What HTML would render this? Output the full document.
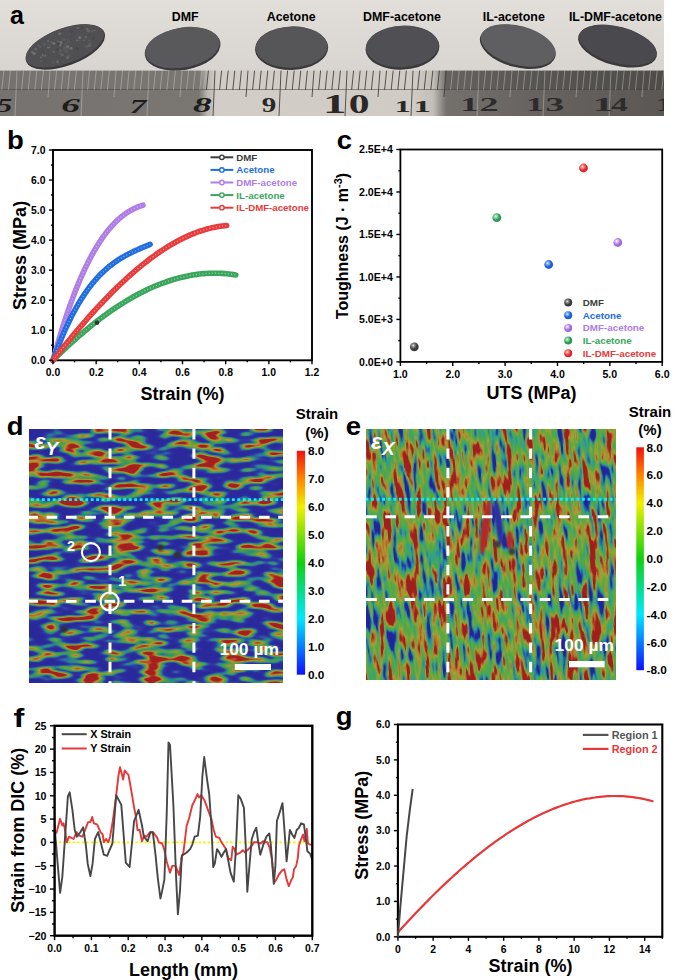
<!DOCTYPE html>
<html><head><meta charset="utf-8"><title>Figure</title>
<style>html,body{margin:0;padding:0;background:#fff;width:685px;height:980px;overflow:hidden}svg{display:block}</style>
</head><body>
<svg width="685" height="980" viewBox="0 0 685 980" font-family="Liberation Sans, sans-serif">
<rect width="685" height="980" fill="#fff"/>
<defs>
<linearGradient id="bgA" x1="0" y1="0" x2="0" y2="1"><stop offset="0" stop-color="#e2dfdb"/><stop offset="1" stop-color="#d2cec9"/></linearGradient>
<linearGradient id="rul" x1="0" y1="0" x2="1" y2="0"><stop offset="0" stop-color="#75726f"/><stop offset="0.3" stop-color="#7a7773"/><stop offset="0.312" stop-color="#b8b4ae"/><stop offset="0.325" stop-color="#d2cec7"/><stop offset="0.62" stop-color="#d0ccc5"/><stop offset="0.652" stop-color="#c4c0b9"/><stop offset="0.672" stop-color="#74716d"/><stop offset="0.8" stop-color="#666360"/><stop offset="1" stop-color="#5a5754"/></linearGradient>
<radialGradient id="disc" cx="0.5" cy="0.45" r="0.6"><stop offset="0" stop-color="#5a5a5c"/><stop offset="0.85" stop-color="#4f4f52"/><stop offset="1" stop-color="#3c3c3e"/></radialGradient>
</defs>
<clipPath id="photoClip"><rect x="0" y="0" width="664" height="116"/></clipPath>
<g clip-path="url(#photoClip)">
<rect x="0" y="0" width="664" height="116" fill="url(#bgA)"/>
<g transform="rotate(-20 65.1 46.35)">
<ellipse cx="65.1" cy="47.15" rx="41.8" ry="18.6" fill="#3a3a3c"/>
<ellipse cx="65.1" cy="45.75" rx="41.199999999999996" ry="17.6" fill="#505052"/>
</g>
<g transform="rotate(-10 182.5 48.2)">
<ellipse cx="182.5" cy="49.0" rx="38.3" ry="21.0" fill="#3a3a3c"/>
<ellipse cx="182.5" cy="47.6" rx="37.699999999999996" ry="20.0" fill="#59595b"/>
</g>
<g transform="rotate(-2 291.6 47.6)">
<ellipse cx="291.6" cy="48.4" rx="36.6" ry="21.6" fill="#3a3a3c"/>
<ellipse cx="291.6" cy="47.0" rx="36.0" ry="20.6" fill="#565659"/>
</g>
<g transform="rotate(-3 402.4 47)">
<ellipse cx="402.4" cy="47.8" rx="37" ry="21.8" fill="#3a3a3c"/>
<ellipse cx="402.4" cy="46.4" rx="36.4" ry="20.8" fill="#505054"/>
</g>
<g transform="rotate(15 518 46)">
<ellipse cx="518" cy="46.8" rx="38.9" ry="20.5" fill="#3a3a3c"/>
<ellipse cx="518" cy="45.4" rx="38.3" ry="19.5" fill="#5f5f62"/>
</g>
<g transform="rotate(15 617.7 45.5)">
<ellipse cx="617.7" cy="46.3" rx="40.5" ry="19.2" fill="#3a3a3c"/>
<ellipse cx="617.7" cy="44.9" rx="39.9" ry="18.2" fill="#4a4a4e"/>
</g>
<circle cx="70.1" cy="54.6" r="0.9" fill="#5e5e60" opacity="0.75"/>
<circle cx="61.0" cy="45.8" r="0.4" fill="#5e5e60" opacity="0.75"/>
<circle cx="66.2" cy="51.4" r="1.8" fill="#5e5e60" opacity="0.75"/>
<circle cx="42.8" cy="51.4" r="1.0" fill="#444446" opacity="0.75"/>
<circle cx="67.5" cy="49.4" r="1.7" fill="#5e5e60" opacity="0.75"/>
<circle cx="59.8" cy="35.8" r="0.5" fill="#6c6c6e" opacity="0.75"/>
<circle cx="64.6" cy="47.5" r="1.6" fill="#5e5e60" opacity="0.75"/>
<circle cx="36.1" cy="48.1" r="0.9" fill="#5e5e60" opacity="0.75"/>
<circle cx="45.0" cy="61.7" r="1.0" fill="#444446" opacity="0.75"/>
<circle cx="69.2" cy="42.3" r="0.6" fill="#444446" opacity="0.75"/>
<circle cx="67.7" cy="57.2" r="1.5" fill="#78787a" opacity="0.75"/>
<circle cx="41.2" cy="61.4" r="1.2" fill="#5e5e60" opacity="0.75"/>
<circle cx="35.6" cy="49.2" r="1.4" fill="#6c6c6e" opacity="0.75"/>
<circle cx="81.8" cy="27.4" r="1.3" fill="#444446" opacity="0.75"/>
<circle cx="58.0" cy="41.6" r="1.2" fill="#6c6c6e" opacity="0.75"/>
<circle cx="60.9" cy="42.3" r="1.6" fill="#78787a" opacity="0.75"/>
<circle cx="64.8" cy="48.4" r="1.6" fill="#5e5e60" opacity="0.75"/>
<circle cx="91.9" cy="43.5" r="1.0" fill="#444446" opacity="0.75"/>
<circle cx="83.9" cy="40.3" r="1.0" fill="#6c6c6e" opacity="0.75"/>
<circle cx="89.1" cy="40.4" r="0.5" fill="#78787a" opacity="0.75"/>
<circle cx="33.4" cy="52.8" r="0.8" fill="#444446" opacity="0.75"/>
<circle cx="79.9" cy="40.5" r="0.5" fill="#6c6c6e" opacity="0.75"/>
<circle cx="94.8" cy="30.2" r="0.8" fill="#78787a" opacity="0.75"/>
<circle cx="67.6" cy="46.5" r="1.6" fill="#78787a" opacity="0.75"/>
<circle cx="60.7" cy="50.7" r="1.6" fill="#5e5e60" opacity="0.75"/>
<circle cx="45.2" cy="55.7" r="1.3" fill="#6c6c6e" opacity="0.75"/>
<circle cx="38.2" cy="45.2" r="1.1" fill="#5e5e60" opacity="0.75"/>
<circle cx="44.3" cy="44.1" r="1.7" fill="#5e5e60" opacity="0.75"/>
<circle cx="85.8" cy="37.1" r="1.2" fill="#6c6c6e" opacity="0.75"/>
<circle cx="68.1" cy="29.4" r="0.8" fill="#5e5e60" opacity="0.75"/>
<circle cx="44.4" cy="45.8" r="0.5" fill="#78787a" opacity="0.75"/>
<circle cx="40.8" cy="57.4" r="0.9" fill="#78787a" opacity="0.75"/>
<circle cx="64.6" cy="45.1" r="0.5" fill="#6c6c6e" opacity="0.75"/>
<circle cx="77.1" cy="40.2" r="1.0" fill="#78787a" opacity="0.75"/>
<circle cx="71.1" cy="48.3" r="1.5" fill="#78787a" opacity="0.75"/>
<circle cx="62.3" cy="54.7" r="1.5" fill="#6c6c6e" opacity="0.75"/>
<circle cx="89.8" cy="34.8" r="0.6" fill="#444446" opacity="0.75"/>
<circle cx="55.8" cy="44.1" r="0.9" fill="#5e5e60" opacity="0.75"/>
<circle cx="60.4" cy="45.2" r="1.2" fill="#78787a" opacity="0.75"/>
<circle cx="58.1" cy="43.5" r="1.5" fill="#444446" opacity="0.75"/>
<circle cx="91.1" cy="42.8" r="0.7" fill="#5e5e60" opacity="0.75"/>
<circle cx="65.8" cy="59.2" r="0.4" fill="#444446" opacity="0.75"/>
<circle cx="57.5" cy="61.8" r="1.2" fill="#78787a" opacity="0.75"/>
<circle cx="53.1" cy="62.2" r="0.5" fill="#78787a" opacity="0.75"/>
<circle cx="48.0" cy="47.5" r="1.1" fill="#78787a" opacity="0.75"/>
<circle cx="42.0" cy="57.0" r="0.8" fill="#5e5e60" opacity="0.75"/>
<circle cx="83.4" cy="41.3" r="0.7" fill="#5e5e60" opacity="0.75"/>
<circle cx="92.3" cy="31.0" r="1.8" fill="#5e5e60" opacity="0.75"/>
<circle cx="32.2" cy="52.2" r="1.4" fill="#6c6c6e" opacity="0.75"/>
<circle cx="59.7" cy="33.8" r="1.3" fill="#78787a" opacity="0.75"/>
<circle cx="33.9" cy="53.3" r="1.6" fill="#78787a" opacity="0.75"/>
<circle cx="75.6" cy="46.3" r="0.4" fill="#444446" opacity="0.75"/>
<circle cx="87.1" cy="29.0" r="1.2" fill="#6c6c6e" opacity="0.75"/>
<circle cx="57.6" cy="49.2" r="1.1" fill="#444446" opacity="0.75"/>
<circle cx="51.1" cy="42.3" r="1.0" fill="#6c6c6e" opacity="0.75"/>
<circle cx="59.8" cy="53.1" r="1.6" fill="#5e5e60" opacity="0.75"/>
<circle cx="66.2" cy="43.5" r="0.7" fill="#6c6c6e" opacity="0.75"/>
<circle cx="35.6" cy="53.7" r="0.6" fill="#78787a" opacity="0.75"/>
<circle cx="88.5" cy="30.9" r="1.6" fill="#6c6c6e" opacity="0.75"/>
<circle cx="42.7" cy="55.0" r="1.0" fill="#78787a" opacity="0.75"/>
<circle cx="69.0" cy="56.0" r="1.1" fill="#6c6c6e" opacity="0.75"/>
<circle cx="38.0" cy="58.1" r="0.4" fill="#6c6c6e" opacity="0.75"/>
<circle cx="65.1" cy="44.1" r="0.5" fill="#5e5e60" opacity="0.75"/>
<circle cx="94.2" cy="33.1" r="0.5" fill="#5e5e60" opacity="0.75"/>
<circle cx="61.2" cy="54.0" r="0.9" fill="#5e5e60" opacity="0.75"/>
<circle cx="49.7" cy="47.5" r="0.7" fill="#78787a" opacity="0.75"/>
<circle cx="58.4" cy="50.1" r="0.4" fill="#5e5e60" opacity="0.75"/>
<circle cx="68.1" cy="34.5" r="0.5" fill="#5e5e60" opacity="0.75"/>
<circle cx="40.0" cy="46.9" r="0.9" fill="#6c6c6e" opacity="0.75"/>
<circle cx="49.7" cy="45.4" r="0.9" fill="#5e5e60" opacity="0.75"/>
<circle cx="63.8" cy="39.4" r="1.7" fill="#5e5e60" opacity="0.75"/>
<circle cx="53.4" cy="51.7" r="1.2" fill="#6c6c6e" opacity="0.75"/>
<circle cx="67.3" cy="39.9" r="0.6" fill="#6c6c6e" opacity="0.75"/>
<circle cx="79.7" cy="37.6" r="1.7" fill="#78787a" opacity="0.75"/>
<circle cx="86.6" cy="46.7" r="1.7" fill="#5e5e60" opacity="0.75"/>
<circle cx="48.1" cy="41.0" r="1.2" fill="#6c6c6e" opacity="0.75"/>
<circle cx="71.4" cy="31.9" r="1.1" fill="#444446" opacity="0.75"/>
<circle cx="65.1" cy="44.2" r="0.5" fill="#6c6c6e" opacity="0.75"/>
<circle cx="53.7" cy="43.3" r="1.5" fill="#78787a" opacity="0.75"/>
<circle cx="68.3" cy="41.8" r="1.6" fill="#5e5e60" opacity="0.75"/>
<circle cx="77.6" cy="28.1" r="1.2" fill="#6c6c6e" opacity="0.75"/>
<circle cx="93.3" cy="38.7" r="1.1" fill="#444446" opacity="0.75"/>
<circle cx="89.3" cy="45.4" r="1.7" fill="#6c6c6e" opacity="0.75"/>
<circle cx="34.6" cy="52.6" r="0.7" fill="#6c6c6e" opacity="0.75"/>
<circle cx="67.2" cy="50.1" r="0.7" fill="#5e5e60" opacity="0.75"/>
<circle cx="68.3" cy="56.1" r="1.7" fill="#5e5e60" opacity="0.75"/>
<circle cx="81.1" cy="38.5" r="0.7" fill="#5e5e60" opacity="0.75"/>
<circle cx="79.2" cy="27.8" r="1.0" fill="#5e5e60" opacity="0.75"/>
<circle cx="77.2" cy="48.6" r="1.6" fill="#444446" opacity="0.75"/>
<circle cx="90.1" cy="44.3" r="1.7" fill="#5e5e60" opacity="0.75"/>
<rect x="0" y="70.6" width="664" height="45.4" fill="url(#rul)"/>
<rect x="445" y="70.6" width="219" height="19" fill="#000" opacity="0.13"/>
<line x1="0" y1="89.5" x2="664" y2="89.5" stroke="#3a3836" stroke-width="0.8" opacity="0.6"/>
<line x1="3.8" y1="70.6" x2="1.8" y2="90" stroke="#dcd8d2" stroke-width="0.8" opacity="0.5"/>
<line x1="10.4" y1="70.6" x2="8.4" y2="90" stroke="#dcd8d2" stroke-width="0.8" opacity="0.5"/>
<line x1="17.0" y1="70.6" x2="15.0" y2="116" stroke="#dcd8d2" stroke-width="0.8" opacity="0.5"/>
<line x1="23.6" y1="70.6" x2="21.6" y2="90" stroke="#dcd8d2" stroke-width="0.8" opacity="0.5"/>
<line x1="30.2" y1="70.6" x2="28.2" y2="90" stroke="#dcd8d2" stroke-width="0.8" opacity="0.5"/>
<line x1="36.8" y1="70.6" x2="34.8" y2="90" stroke="#dcd8d2" stroke-width="0.8" opacity="0.5"/>
<line x1="43.4" y1="70.6" x2="41.4" y2="90" stroke="#dcd8d2" stroke-width="0.8" opacity="0.5"/>
<line x1="50.0" y1="70.6" x2="48.0" y2="97" stroke="#dcd8d2" stroke-width="0.8" opacity="0.5"/>
<line x1="56.6" y1="70.6" x2="54.6" y2="90" stroke="#dcd8d2" stroke-width="0.8" opacity="0.5"/>
<line x1="63.2" y1="70.6" x2="61.2" y2="90" stroke="#dcd8d2" stroke-width="0.8" opacity="0.5"/>
<line x1="69.8" y1="70.6" x2="67.8" y2="90" stroke="#dcd8d2" stroke-width="0.8" opacity="0.5"/>
<line x1="76.4" y1="70.6" x2="74.4" y2="90" stroke="#dcd8d2" stroke-width="0.8" opacity="0.5"/>
<line x1="83.0" y1="70.6" x2="81.0" y2="116" stroke="#dcd8d2" stroke-width="0.8" opacity="0.5"/>
<line x1="89.6" y1="70.6" x2="87.6" y2="90" stroke="#dcd8d2" stroke-width="0.8" opacity="0.5"/>
<line x1="96.2" y1="70.6" x2="94.2" y2="90" stroke="#dcd8d2" stroke-width="0.8" opacity="0.5"/>
<line x1="102.8" y1="70.6" x2="100.8" y2="90" stroke="#dcd8d2" stroke-width="0.8" opacity="0.5"/>
<line x1="109.4" y1="70.6" x2="107.4" y2="90" stroke="#dcd8d2" stroke-width="0.8" opacity="0.5"/>
<line x1="116.0" y1="70.6" x2="114.0" y2="97" stroke="#dcd8d2" stroke-width="0.8" opacity="0.5"/>
<line x1="122.6" y1="70.6" x2="120.6" y2="90" stroke="#dcd8d2" stroke-width="0.8" opacity="0.5"/>
<line x1="129.2" y1="70.6" x2="127.2" y2="90" stroke="#dcd8d2" stroke-width="0.8" opacity="0.5"/>
<line x1="135.8" y1="70.6" x2="133.8" y2="90" stroke="#dcd8d2" stroke-width="0.8" opacity="0.5"/>
<line x1="142.4" y1="70.6" x2="140.4" y2="90" stroke="#dcd8d2" stroke-width="0.8" opacity="0.5"/>
<line x1="149.0" y1="70.6" x2="147.0" y2="116" stroke="#dcd8d2" stroke-width="0.8" opacity="0.5"/>
<line x1="155.6" y1="70.6" x2="153.6" y2="90" stroke="#dcd8d2" stroke-width="0.8" opacity="0.5"/>
<line x1="162.2" y1="70.6" x2="160.2" y2="90" stroke="#dcd8d2" stroke-width="0.8" opacity="0.5"/>
<line x1="168.8" y1="70.6" x2="166.8" y2="90" stroke="#dcd8d2" stroke-width="0.8" opacity="0.5"/>
<line x1="175.4" y1="70.6" x2="173.4" y2="90" stroke="#dcd8d2" stroke-width="0.8" opacity="0.5"/>
<line x1="182.0" y1="70.6" x2="180.0" y2="97" stroke="#dcd8d2" stroke-width="0.8" opacity="0.5"/>
<line x1="188.6" y1="70.6" x2="186.6" y2="90" stroke="#dcd8d2" stroke-width="0.8" opacity="0.5"/>
<line x1="195.2" y1="70.6" x2="193.2" y2="90" stroke="#dcd8d2" stroke-width="0.8" opacity="0.5"/>
<line x1="201.8" y1="70.6" x2="199.8" y2="90" stroke="#dcd8d2" stroke-width="0.8" opacity="0.5"/>
<line x1="208.4" y1="70.6" x2="206.4" y2="90" stroke="#3e3b38" stroke-width="1.0" opacity="0.85"/>
<line x1="215.0" y1="70.6" x2="213.0" y2="116" stroke="#3e3b38" stroke-width="1.0" opacity="0.85"/>
<line x1="221.6" y1="70.6" x2="219.6" y2="90" stroke="#3e3b38" stroke-width="1.0" opacity="0.85"/>
<line x1="228.2" y1="70.6" x2="226.2" y2="90" stroke="#3e3b38" stroke-width="1.0" opacity="0.85"/>
<line x1="234.8" y1="70.6" x2="232.8" y2="90" stroke="#3e3b38" stroke-width="1.0" opacity="0.85"/>
<line x1="241.4" y1="70.6" x2="239.4" y2="90" stroke="#3e3b38" stroke-width="1.0" opacity="0.85"/>
<line x1="248.0" y1="70.6" x2="246.0" y2="97" stroke="#3e3b38" stroke-width="1.0" opacity="0.85"/>
<line x1="254.6" y1="70.6" x2="252.6" y2="90" stroke="#3e3b38" stroke-width="1.0" opacity="0.85"/>
<line x1="261.2" y1="70.6" x2="259.2" y2="90" stroke="#3e3b38" stroke-width="1.0" opacity="0.85"/>
<line x1="267.8" y1="70.6" x2="265.8" y2="90" stroke="#3e3b38" stroke-width="1.0" opacity="0.85"/>
<line x1="274.4" y1="70.6" x2="272.4" y2="90" stroke="#3e3b38" stroke-width="1.0" opacity="0.85"/>
<line x1="281.0" y1="70.6" x2="279.0" y2="116" stroke="#3e3b38" stroke-width="1.0" opacity="0.85"/>
<line x1="287.6" y1="70.6" x2="285.6" y2="90" stroke="#3e3b38" stroke-width="1.0" opacity="0.85"/>
<line x1="294.2" y1="70.6" x2="292.2" y2="90" stroke="#3e3b38" stroke-width="1.0" opacity="0.85"/>
<line x1="300.8" y1="70.6" x2="298.8" y2="90" stroke="#3e3b38" stroke-width="1.0" opacity="0.85"/>
<line x1="307.4" y1="70.6" x2="305.4" y2="90" stroke="#3e3b38" stroke-width="1.0" opacity="0.85"/>
<line x1="314.0" y1="70.6" x2="312.0" y2="97" stroke="#3e3b38" stroke-width="1.0" opacity="0.85"/>
<line x1="320.6" y1="70.6" x2="318.6" y2="90" stroke="#3e3b38" stroke-width="1.0" opacity="0.85"/>
<line x1="327.2" y1="70.6" x2="325.2" y2="90" stroke="#3e3b38" stroke-width="1.0" opacity="0.85"/>
<line x1="333.8" y1="70.6" x2="331.8" y2="90" stroke="#3e3b38" stroke-width="1.0" opacity="0.85"/>
<line x1="340.4" y1="70.6" x2="338.4" y2="90" stroke="#3e3b38" stroke-width="1.0" opacity="0.85"/>
<line x1="347.0" y1="70.6" x2="345.0" y2="116" stroke="#3e3b38" stroke-width="1.0" opacity="0.85"/>
<line x1="353.6" y1="70.6" x2="351.6" y2="90" stroke="#3e3b38" stroke-width="1.0" opacity="0.85"/>
<line x1="360.2" y1="70.6" x2="358.2" y2="90" stroke="#3e3b38" stroke-width="1.0" opacity="0.85"/>
<line x1="366.8" y1="70.6" x2="364.8" y2="90" stroke="#3e3b38" stroke-width="1.0" opacity="0.85"/>
<line x1="373.4" y1="70.6" x2="371.4" y2="90" stroke="#3e3b38" stroke-width="1.0" opacity="0.85"/>
<line x1="380.0" y1="70.6" x2="378.0" y2="97" stroke="#3e3b38" stroke-width="1.0" opacity="0.85"/>
<line x1="386.6" y1="70.6" x2="384.6" y2="90" stroke="#3e3b38" stroke-width="1.0" opacity="0.85"/>
<line x1="393.2" y1="70.6" x2="391.2" y2="90" stroke="#3e3b38" stroke-width="1.0" opacity="0.85"/>
<line x1="399.8" y1="70.6" x2="397.8" y2="90" stroke="#3e3b38" stroke-width="1.0" opacity="0.85"/>
<line x1="406.4" y1="70.6" x2="404.4" y2="90" stroke="#3e3b38" stroke-width="1.0" opacity="0.85"/>
<line x1="413.0" y1="70.6" x2="411.0" y2="116" stroke="#3e3b38" stroke-width="1.0" opacity="0.85"/>
<line x1="419.6" y1="70.6" x2="417.6" y2="90" stroke="#3e3b38" stroke-width="1.0" opacity="0.85"/>
<line x1="426.2" y1="70.6" x2="424.2" y2="90" stroke="#3e3b38" stroke-width="1.0" opacity="0.85"/>
<line x1="432.8" y1="70.6" x2="430.8" y2="90" stroke="#3e3b38" stroke-width="1.0" opacity="0.85"/>
<line x1="439.4" y1="70.6" x2="437.4" y2="90" stroke="#3e3b38" stroke-width="1.0" opacity="0.85"/>
<line x1="446.0" y1="70.6" x2="444.0" y2="97" stroke="#3e3b38" stroke-width="1.0" opacity="0.85"/>
<line x1="452.6" y1="70.6" x2="450.6" y2="90" stroke="#dcd8d2" stroke-width="0.8" opacity="0.5"/>
<line x1="459.2" y1="70.6" x2="457.2" y2="90" stroke="#dcd8d2" stroke-width="0.8" opacity="0.5"/>
<line x1="465.8" y1="70.6" x2="463.8" y2="90" stroke="#dcd8d2" stroke-width="0.8" opacity="0.5"/>
<line x1="472.4" y1="70.6" x2="470.4" y2="90" stroke="#dcd8d2" stroke-width="0.8" opacity="0.5"/>
<line x1="479.0" y1="70.6" x2="477.0" y2="116" stroke="#dcd8d2" stroke-width="0.8" opacity="0.5"/>
<line x1="485.6" y1="70.6" x2="483.6" y2="90" stroke="#dcd8d2" stroke-width="0.8" opacity="0.5"/>
<line x1="492.2" y1="70.6" x2="490.2" y2="90" stroke="#dcd8d2" stroke-width="0.8" opacity="0.5"/>
<line x1="498.8" y1="70.6" x2="496.8" y2="90" stroke="#dcd8d2" stroke-width="0.8" opacity="0.5"/>
<line x1="505.4" y1="70.6" x2="503.4" y2="90" stroke="#dcd8d2" stroke-width="0.8" opacity="0.5"/>
<line x1="512.0" y1="70.6" x2="510.0" y2="97" stroke="#dcd8d2" stroke-width="0.8" opacity="0.5"/>
<line x1="518.6" y1="70.6" x2="516.6" y2="90" stroke="#dcd8d2" stroke-width="0.8" opacity="0.5"/>
<line x1="525.2" y1="70.6" x2="523.2" y2="90" stroke="#dcd8d2" stroke-width="0.8" opacity="0.5"/>
<line x1="531.8" y1="70.6" x2="529.8" y2="90" stroke="#dcd8d2" stroke-width="0.8" opacity="0.5"/>
<line x1="538.4" y1="70.6" x2="536.4" y2="90" stroke="#dcd8d2" stroke-width="0.8" opacity="0.5"/>
<line x1="545.0" y1="70.6" x2="543.0" y2="116" stroke="#dcd8d2" stroke-width="0.8" opacity="0.5"/>
<line x1="551.6" y1="70.6" x2="549.6" y2="90" stroke="#dcd8d2" stroke-width="0.8" opacity="0.5"/>
<line x1="558.2" y1="70.6" x2="556.2" y2="90" stroke="#dcd8d2" stroke-width="0.8" opacity="0.5"/>
<line x1="564.8" y1="70.6" x2="562.8" y2="90" stroke="#dcd8d2" stroke-width="0.8" opacity="0.5"/>
<line x1="571.4" y1="70.6" x2="569.4" y2="90" stroke="#dcd8d2" stroke-width="0.8" opacity="0.5"/>
<line x1="578.0" y1="70.6" x2="576.0" y2="97" stroke="#dcd8d2" stroke-width="0.8" opacity="0.5"/>
<line x1="584.6" y1="70.6" x2="582.6" y2="90" stroke="#dcd8d2" stroke-width="0.8" opacity="0.5"/>
<line x1="591.2" y1="70.6" x2="589.2" y2="90" stroke="#dcd8d2" stroke-width="0.8" opacity="0.5"/>
<line x1="597.8" y1="70.6" x2="595.8" y2="90" stroke="#dcd8d2" stroke-width="0.8" opacity="0.5"/>
<line x1="604.4" y1="70.6" x2="602.4" y2="90" stroke="#dcd8d2" stroke-width="0.8" opacity="0.5"/>
<line x1="611.0" y1="70.6" x2="609.0" y2="116" stroke="#dcd8d2" stroke-width="0.8" opacity="0.5"/>
<line x1="617.6" y1="70.6" x2="615.6" y2="90" stroke="#dcd8d2" stroke-width="0.8" opacity="0.5"/>
<line x1="624.2" y1="70.6" x2="622.2" y2="90" stroke="#dcd8d2" stroke-width="0.8" opacity="0.5"/>
<line x1="630.8" y1="70.6" x2="628.8" y2="90" stroke="#dcd8d2" stroke-width="0.8" opacity="0.5"/>
<line x1="637.4" y1="70.6" x2="635.4" y2="90" stroke="#dcd8d2" stroke-width="0.8" opacity="0.5"/>
<line x1="644.0" y1="70.6" x2="642.0" y2="97" stroke="#dcd8d2" stroke-width="0.8" opacity="0.5"/>
<line x1="650.6" y1="70.6" x2="648.6" y2="90" stroke="#dcd8d2" stroke-width="0.8" opacity="0.5"/>
<line x1="657.2" y1="70.6" x2="655.2" y2="90" stroke="#dcd8d2" stroke-width="0.8" opacity="0.5"/>
<line x1="663.8" y1="70.6" x2="661.8" y2="90" stroke="#dcd8d2" stroke-width="0.8" opacity="0.5"/>
<text transform="translate(4.5,112.0) scale(1.60,1)" font-family="Liberation Serif, serif" font-weight="bold" font-style="italic" font-size="19.4" text-anchor="middle" fill="#1e1d1c">5</text>
<text transform="translate(70.7,112.0) scale(1.91,1)" font-family="Liberation Serif, serif" font-weight="bold" font-style="italic" font-size="19.6" text-anchor="middle" fill="#1e1d1c">6</text>
<text transform="translate(137.9,112.7) scale(1.69,1)" font-family="Liberation Serif, serif" font-weight="bold" font-style="italic" font-size="19.6" text-anchor="middle" fill="#1e1d1c">7</text>
<text transform="translate(202.3,112.3) scale(1.88,1)" font-family="Liberation Serif, serif" font-weight="bold" font-style="italic" font-size="19.9" text-anchor="middle" fill="#1e1d1c">8</text>
<text transform="translate(268.9,112.3) scale(1.46,1)" font-family="Liberation Serif, serif" font-weight="bold" font-style="normal" font-size="19.9" text-anchor="middle" fill="#2a2826">9</text>
<text transform="translate(334.6,113.0) scale(1.72,1)" font-family="Liberation Serif, serif" font-weight="bold" font-style="normal" font-size="27.2" text-anchor="middle" fill="#2a2826">1</text>
<text transform="translate(359.1,113.0) scale(1.53,1)" font-family="Liberation Serif, serif" font-weight="bold" font-style="normal" font-size="27.2" text-anchor="middle" fill="#2a2826">0</text>
<text transform="translate(402.6,112.3) scale(1.90,1)" font-family="Liberation Serif, serif" font-weight="bold" font-style="normal" font-size="17.2" text-anchor="middle" fill="#2a2826">1</text>
<text transform="translate(422.2,112.3) scale(2.04,1)" font-family="Liberation Serif, serif" font-weight="bold" font-style="normal" font-size="17.2" text-anchor="middle" fill="#2a2826">1</text>
<text transform="translate(469.5,110.6) scale(1.88,1)" font-family="Liberation Serif, serif" font-weight="bold" font-style="normal" font-size="19.6" text-anchor="middle" fill="#2e2c2a">1</text>
<text transform="translate(489.0,110.6) scale(1.95,1)" font-family="Liberation Serif, serif" font-weight="bold" font-style="normal" font-size="19.6" text-anchor="middle" fill="#2e2c2a">2</text>
<text transform="translate(535.2,110.6) scale(1.86,1)" font-family="Liberation Serif, serif" font-weight="bold" font-style="normal" font-size="19.6" text-anchor="middle" fill="#2e2c2a">1</text>
<text transform="translate(554.7,110.6) scale(1.90,1)" font-family="Liberation Serif, serif" font-weight="bold" font-style="normal" font-size="19.6" text-anchor="middle" fill="#2e2c2a">3</text>
<text transform="translate(603.1,110.6) scale(2.13,1)" font-family="Liberation Serif, serif" font-weight="bold" font-style="normal" font-size="19.6" text-anchor="middle" fill="#2e2c2a">1</text>
<text transform="translate(619.5,110.6) scale(1.72,1)" font-family="Liberation Serif, serif" font-weight="bold" font-style="normal" font-size="19.6" text-anchor="middle" fill="#2e2c2a">4</text>
<text transform="translate(664.7,110.6) scale(1.81,1)" font-family="Liberation Serif, serif" font-weight="bold" font-style="normal" font-size="19.6" text-anchor="middle" fill="#2e2c2a">1</text>
</g>
<text transform="translate(10,24.1) scale(1.0,1)" font-size="25" font-weight="bold" fill="#000">a</text>
<text x="185.2" y="21.2" font-size="12.4" font-weight="bold" text-anchor="middle" fill="#000" >DMF</text>
<text x="291.2" y="21.2" font-size="12.4" font-weight="bold" text-anchor="middle" fill="#000" >Acetone</text>
<text x="402.0" y="21.2" font-size="12.4" font-weight="bold" text-anchor="middle" fill="#000" >DMF-acetone</text>
<text x="513.8" y="21.2" font-size="12.4" font-weight="bold" text-anchor="middle" fill="#000" >IL-acetone</text>
<text x="615.4" y="21.2" font-size="12.4" font-weight="bold" text-anchor="middle" fill="#000" >IL-DMF-acetone</text>
<rect x="53" y="150" width="259" height="210.3" fill="none" stroke="#000" stroke-width="1.9"/>
<polyline points="53.0,360.3 54.1,356.2 55.3,352.2 56.4,348.2 57.5,344.3 58.6,340.5 59.8,336.7 60.9,333.0 62.0,329.4 63.1,325.8 64.3,322.3 65.4,318.9 66.5,315.5 67.6,312.2 68.8,308.9 69.9,305.7 71.0,302.6 72.1,299.6 73.3,296.5 74.4,293.6 75.5,290.7 76.6,287.9 77.8,285.1 78.9,282.4 80.0,279.7 81.1,277.1 82.3,274.6 83.4,272.1 84.5,269.7 85.6,267.3 86.8,265.0 87.9,262.7 89.0,260.5 90.1,258.3 91.3,256.2 92.4,254.1 93.5,252.1 94.6,250.2 95.8,248.2 96.9,246.4 98.0,244.6 99.1,242.8 100.3,241.1 101.4,239.4 102.5,237.8 103.6,236.2 104.8,234.6 105.9,233.1 107.0,231.7 108.1,230.3 109.3,228.9 110.4,227.6 111.5,226.3 112.6,225.1 113.8,223.9 114.9,222.7 116.0,221.6 117.1,220.5 118.3,219.5 119.4,218.5 120.5,217.5 121.6,216.6 122.8,215.7 123.9,214.8 125.0,214.0 126.1,213.2 127.3,212.5 128.4,211.7 129.5,211.1 130.6,210.4 131.8,209.8 132.9,209.2 134.0,208.6 135.1,208.1 136.3,207.6 137.4,207.1 138.5,206.7 139.6,206.3 140.8,205.9 141.9,205.5 143.0,205.2" fill="none" stroke="#b07ce6" stroke-width="5.6" stroke-linecap="round" stroke-linejoin="round"/>
<polyline points="53.0,360.3 54.1,356.2 55.3,352.2 56.4,348.2 57.5,344.3 58.6,340.5 59.8,336.7 60.9,333.0 62.0,329.4 63.1,325.8 64.3,322.3 65.4,318.9 66.5,315.5 67.6,312.2 68.8,308.9 69.9,305.7 71.0,302.6 72.1,299.6 73.3,296.5 74.4,293.6 75.5,290.7 76.6,287.9 77.8,285.1 78.9,282.4 80.0,279.7 81.1,277.1 82.3,274.6 83.4,272.1 84.5,269.7 85.6,267.3 86.8,265.0 87.9,262.7 89.0,260.5 90.1,258.3 91.3,256.2 92.4,254.1 93.5,252.1 94.6,250.2 95.8,248.2 96.9,246.4 98.0,244.6 99.1,242.8 100.3,241.1 101.4,239.4 102.5,237.8 103.6,236.2 104.8,234.6 105.9,233.1 107.0,231.7 108.1,230.3 109.3,228.9 110.4,227.6 111.5,226.3 112.6,225.1 113.8,223.9 114.9,222.7 116.0,221.6 117.1,220.5 118.3,219.5 119.4,218.5 120.5,217.5 121.6,216.6 122.8,215.7 123.9,214.8 125.0,214.0 126.1,213.2 127.3,212.5 128.4,211.7 129.5,211.1 130.6,210.4 131.8,209.8 132.9,209.2 134.0,208.6 135.1,208.1 136.3,207.6 137.4,207.1 138.5,206.7 139.6,206.3 140.8,205.9 141.9,205.5 143.0,205.2" fill="none" stroke="#d9bff5" stroke-width="1.2" stroke-dasharray="1 2.2" opacity="0.9"/>
<polyline points="53.0,360.3 54.2,356.9 55.4,353.6 56.6,350.4 57.9,347.3 59.1,344.2 60.3,341.2 61.5,338.2 62.7,335.4 63.9,332.5 65.1,329.8 66.4,327.1 67.6,324.5 68.8,322.0 70.0,319.5 71.2,317.0 72.4,314.7 73.6,312.4 74.9,310.1 76.1,307.9 77.3,305.8 78.5,303.7 79.7,301.7 80.9,299.7 82.1,297.8 83.4,295.9 84.6,294.1 85.8,292.3 87.0,290.6 88.2,288.9 89.4,287.3 90.6,285.7 91.8,284.2 93.1,282.7 94.3,281.2 95.5,279.8 96.7,278.5 97.9,277.1 99.1,275.8 100.3,274.6 101.6,273.4 102.8,272.2 104.0,271.1 105.2,270.0 106.4,268.9 107.6,267.8 108.8,266.8 110.1,265.8 111.3,264.9 112.5,264.0 113.7,263.1 114.9,262.2 116.1,261.4 117.3,260.5 118.6,259.7 119.8,259.0 121.0,258.2 122.2,257.5 123.4,256.8 124.6,256.1 125.8,255.4 127.1,254.8 128.3,254.1 129.5,253.5 130.7,252.9 131.9,252.3 133.1,251.7 134.3,251.1 135.6,250.6 136.8,250.0 138.0,249.5 139.2,248.9 140.4,248.4 141.6,247.9 142.8,247.4 144.1,246.8 145.3,246.3 146.5,245.8 147.7,245.3 148.9,244.8 150.1,244.3" fill="none" stroke="#1f6de0" stroke-width="5.6" stroke-linecap="round" stroke-linejoin="round"/>
<polyline points="53.0,360.3 54.2,356.9 55.4,353.6 56.6,350.4 57.9,347.3 59.1,344.2 60.3,341.2 61.5,338.2 62.7,335.4 63.9,332.5 65.1,329.8 66.4,327.1 67.6,324.5 68.8,322.0 70.0,319.5 71.2,317.0 72.4,314.7 73.6,312.4 74.9,310.1 76.1,307.9 77.3,305.8 78.5,303.7 79.7,301.7 80.9,299.7 82.1,297.8 83.4,295.9 84.6,294.1 85.8,292.3 87.0,290.6 88.2,288.9 89.4,287.3 90.6,285.7 91.8,284.2 93.1,282.7 94.3,281.2 95.5,279.8 96.7,278.5 97.9,277.1 99.1,275.8 100.3,274.6 101.6,273.4 102.8,272.2 104.0,271.1 105.2,270.0 106.4,268.9 107.6,267.8 108.8,266.8 110.1,265.8 111.3,264.9 112.5,264.0 113.7,263.1 114.9,262.2 116.1,261.4 117.3,260.5 118.6,259.7 119.8,259.0 121.0,258.2 122.2,257.5 123.4,256.8 124.6,256.1 125.8,255.4 127.1,254.8 128.3,254.1 129.5,253.5 130.7,252.9 131.9,252.3 133.1,251.7 134.3,251.1 135.6,250.6 136.8,250.0 138.0,249.5 139.2,248.9 140.4,248.4 141.6,247.9 142.8,247.4 144.1,246.8 145.3,246.3 146.5,245.8 147.7,245.3 148.9,244.8 150.1,244.3" fill="none" stroke="#9fc0f0" stroke-width="1.2" stroke-dasharray="1 2.2" opacity="0.9"/>
<polyline points="53.0,360.3 55.3,358.0 57.6,355.8 59.9,353.6 62.1,351.4 64.4,349.2 66.7,347.1 69.0,344.9 71.3,342.9 73.6,340.8 75.9,338.8 78.1,336.7 80.4,334.8 82.7,332.8 85.0,330.9 87.3,329.0 89.6,327.1 91.8,325.2 94.1,323.4 96.4,321.6 98.7,319.9 101.0,318.1 103.3,316.4 105.6,314.8 107.8,313.1 110.1,311.5 112.4,309.9 114.7,308.4 117.0,306.8 119.3,305.3 121.6,303.9 123.8,302.5 126.1,301.1 128.4,299.7 130.7,298.4 133.0,297.0 135.3,295.8 137.6,294.5 139.8,293.3 142.1,292.2 144.4,291.0 146.7,289.9 149.0,288.8 151.3,287.8 153.5,286.8 155.8,285.8 158.1,284.9 160.4,284.0 162.7,283.1 165.0,282.3 167.3,281.5 169.5,280.7 171.8,280.0 174.1,279.3 176.4,278.6 178.7,278.0 181.0,277.4 183.3,276.9 185.5,276.4 187.8,275.9 190.1,275.5 192.4,275.1 194.7,274.7 197.0,274.4 199.2,274.1 201.5,273.8 203.8,273.6 206.1,273.5 208.4,273.3 210.7,273.3 213.0,273.2 215.2,273.2 217.5,273.2 219.8,273.3 222.1,273.4 224.4,273.6 226.7,273.8 229.0,274.0 231.2,274.3 233.5,274.6 235.8,275.0" fill="none" stroke="#3aa65c" stroke-width="5.6" stroke-linecap="round" stroke-linejoin="round"/>
<polyline points="53.0,360.3 55.3,358.0 57.6,355.8 59.9,353.6 62.1,351.4 64.4,349.2 66.7,347.1 69.0,344.9 71.3,342.9 73.6,340.8 75.9,338.8 78.1,336.7 80.4,334.8 82.7,332.8 85.0,330.9 87.3,329.0 89.6,327.1 91.8,325.2 94.1,323.4 96.4,321.6 98.7,319.9 101.0,318.1 103.3,316.4 105.6,314.8 107.8,313.1 110.1,311.5 112.4,309.9 114.7,308.4 117.0,306.8 119.3,305.3 121.6,303.9 123.8,302.5 126.1,301.1 128.4,299.7 130.7,298.4 133.0,297.0 135.3,295.8 137.6,294.5 139.8,293.3 142.1,292.2 144.4,291.0 146.7,289.9 149.0,288.8 151.3,287.8 153.5,286.8 155.8,285.8 158.1,284.9 160.4,284.0 162.7,283.1 165.0,282.3 167.3,281.5 169.5,280.7 171.8,280.0 174.1,279.3 176.4,278.6 178.7,278.0 181.0,277.4 183.3,276.9 185.5,276.4 187.8,275.9 190.1,275.5 192.4,275.1 194.7,274.7 197.0,274.4 199.2,274.1 201.5,273.8 203.8,273.6 206.1,273.5 208.4,273.3 210.7,273.3 213.0,273.2 215.2,273.2 217.5,273.2 219.8,273.3 222.1,273.4 224.4,273.6 226.7,273.8 229.0,274.0 231.2,274.3 233.5,274.6 235.8,275.0" fill="none" stroke="#a8dcb8" stroke-width="1.2" stroke-dasharray="1 2.2" opacity="0.9"/>
<polyline points="53.0,360.3 55.2,357.5 57.3,354.8 59.5,352.1 61.7,349.3 63.9,346.6 66.0,344.0 68.2,341.3 70.4,338.7 72.5,336.0 74.7,333.4 76.9,330.9 79.1,328.3 81.2,325.8 83.4,323.3 85.6,320.8 87.7,318.3 89.9,315.9 92.1,313.4 94.3,311.0 96.4,308.7 98.6,306.3 100.8,304.0 103.0,301.7 105.1,299.4 107.3,297.2 109.5,294.9 111.6,292.8 113.8,290.6 116.0,288.4 118.2,286.3 120.3,284.3 122.5,282.2 124.7,280.2 126.8,278.2 129.0,276.2 131.2,274.3 133.4,272.4 135.5,270.5 137.7,268.7 139.9,266.9 142.0,265.1 144.2,263.4 146.4,261.7 148.6,260.0 150.7,258.3 152.9,256.7 155.1,255.2 157.2,253.6 159.4,252.1 161.6,250.7 163.8,249.2 165.9,247.8 168.1,246.5 170.3,245.2 172.5,243.9 174.6,242.7 176.8,241.5 179.0,240.3 181.1,239.2 183.3,238.1 185.5,237.1 187.7,236.1 189.8,235.1 192.0,234.2 194.2,233.3 196.3,232.5 198.5,231.7 200.7,231.0 202.9,230.3 205.0,229.6 207.2,229.0 209.4,228.4 211.5,227.9 213.7,227.4 215.9,227.0 218.1,226.6 220.2,226.3 222.4,226.0 224.6,225.7 226.7,225.5" fill="none" stroke="#e83b3b" stroke-width="5.6" stroke-linecap="round" stroke-linejoin="round"/>
<polyline points="53.0,360.3 55.2,357.5 57.3,354.8 59.5,352.1 61.7,349.3 63.9,346.6 66.0,344.0 68.2,341.3 70.4,338.7 72.5,336.0 74.7,333.4 76.9,330.9 79.1,328.3 81.2,325.8 83.4,323.3 85.6,320.8 87.7,318.3 89.9,315.9 92.1,313.4 94.3,311.0 96.4,308.7 98.6,306.3 100.8,304.0 103.0,301.7 105.1,299.4 107.3,297.2 109.5,294.9 111.6,292.8 113.8,290.6 116.0,288.4 118.2,286.3 120.3,284.3 122.5,282.2 124.7,280.2 126.8,278.2 129.0,276.2 131.2,274.3 133.4,272.4 135.5,270.5 137.7,268.7 139.9,266.9 142.0,265.1 144.2,263.4 146.4,261.7 148.6,260.0 150.7,258.3 152.9,256.7 155.1,255.2 157.2,253.6 159.4,252.1 161.6,250.7 163.8,249.2 165.9,247.8 168.1,246.5 170.3,245.2 172.5,243.9 174.6,242.7 176.8,241.5 179.0,240.3 181.1,239.2 183.3,238.1 185.5,237.1 187.7,236.1 189.8,235.1 192.0,234.2 194.2,233.3 196.3,232.5 198.5,231.7 200.7,231.0 202.9,230.3 205.0,229.6 207.2,229.0 209.4,228.4 211.5,227.9 213.7,227.4 215.9,227.0 218.1,226.6 220.2,226.3 222.4,226.0 224.6,225.7 226.7,225.5" fill="none" stroke="#f5b0b0" stroke-width="1.2" stroke-dasharray="1 2.2" opacity="0.9"/>
<circle cx="97.0" cy="322.7" r="2.3" fill="#333"/>
<line x1="49" y1="360.30" x2="53" y2="360.30" stroke="#000" stroke-width="1.4"/>
<text x="45.5" y="364.1" font-size="10.4" font-weight="bold" text-anchor="end" fill="#000" >0.0</text>
<line x1="49" y1="330.26" x2="53" y2="330.26" stroke="#000" stroke-width="1.4"/>
<text x="45.5" y="334.0" font-size="10.4" font-weight="bold" text-anchor="end" fill="#000" >1.0</text>
<line x1="49" y1="300.21" x2="53" y2="300.21" stroke="#000" stroke-width="1.4"/>
<text x="45.5" y="304.0" font-size="10.4" font-weight="bold" text-anchor="end" fill="#000" >2.0</text>
<line x1="49" y1="270.17" x2="53" y2="270.17" stroke="#000" stroke-width="1.4"/>
<text x="45.5" y="273.9" font-size="10.4" font-weight="bold" text-anchor="end" fill="#000" >3.0</text>
<line x1="49" y1="240.13" x2="53" y2="240.13" stroke="#000" stroke-width="1.4"/>
<text x="45.5" y="243.9" font-size="10.4" font-weight="bold" text-anchor="end" fill="#000" >4.0</text>
<line x1="49" y1="210.09" x2="53" y2="210.09" stroke="#000" stroke-width="1.4"/>
<text x="45.5" y="213.8" font-size="10.4" font-weight="bold" text-anchor="end" fill="#000" >5.0</text>
<line x1="49" y1="180.04" x2="53" y2="180.04" stroke="#000" stroke-width="1.4"/>
<text x="45.5" y="183.8" font-size="10.4" font-weight="bold" text-anchor="end" fill="#000" >6.0</text>
<line x1="49" y1="150.00" x2="53" y2="150.00" stroke="#000" stroke-width="1.4"/>
<text x="45.5" y="153.8" font-size="10.4" font-weight="bold" text-anchor="end" fill="#000" >7.0</text>
<line x1="51" y1="345.28" x2="53" y2="345.28" stroke="#000" stroke-width="1.4"/>
<line x1="51" y1="315.24" x2="53" y2="315.24" stroke="#000" stroke-width="1.4"/>
<line x1="51" y1="285.19" x2="53" y2="285.19" stroke="#000" stroke-width="1.4"/>
<line x1="51" y1="255.15" x2="53" y2="255.15" stroke="#000" stroke-width="1.4"/>
<line x1="51" y1="225.11" x2="53" y2="225.11" stroke="#000" stroke-width="1.4"/>
<line x1="51" y1="195.06" x2="53" y2="195.06" stroke="#000" stroke-width="1.4"/>
<line x1="51" y1="165.02" x2="53" y2="165.02" stroke="#000" stroke-width="1.4"/>
<line x1="53.00" y1="360.3" x2="53.00" y2="364.3" stroke="#000" stroke-width="1.4"/>
<text x="53.0" y="375.6" font-size="10.4" font-weight="bold" text-anchor="middle" fill="#000" >0.0</text>
<line x1="96.17" y1="360.3" x2="96.17" y2="364.3" stroke="#000" stroke-width="1.4"/>
<text x="96.2" y="375.6" font-size="10.4" font-weight="bold" text-anchor="middle" fill="#000" >0.2</text>
<line x1="139.33" y1="360.3" x2="139.33" y2="364.3" stroke="#000" stroke-width="1.4"/>
<text x="139.3" y="375.6" font-size="10.4" font-weight="bold" text-anchor="middle" fill="#000" >0.4</text>
<line x1="182.50" y1="360.3" x2="182.50" y2="364.3" stroke="#000" stroke-width="1.4"/>
<text x="182.5" y="375.6" font-size="10.4" font-weight="bold" text-anchor="middle" fill="#000" >0.6</text>
<line x1="225.67" y1="360.3" x2="225.67" y2="364.3" stroke="#000" stroke-width="1.4"/>
<text x="225.7" y="375.6" font-size="10.4" font-weight="bold" text-anchor="middle" fill="#000" >0.8</text>
<line x1="268.83" y1="360.3" x2="268.83" y2="364.3" stroke="#000" stroke-width="1.4"/>
<text x="268.8" y="375.6" font-size="10.4" font-weight="bold" text-anchor="middle" fill="#000" >1.0</text>
<line x1="312.00" y1="360.3" x2="312.00" y2="364.3" stroke="#000" stroke-width="1.4"/>
<text x="312.0" y="375.6" font-size="10.4" font-weight="bold" text-anchor="middle" fill="#000" >1.2</text>
<line x1="74.58" y1="360.3" x2="74.58" y2="362.3" stroke="#000" stroke-width="1.4"/>
<line x1="117.75" y1="360.3" x2="117.75" y2="362.3" stroke="#000" stroke-width="1.4"/>
<line x1="160.92" y1="360.3" x2="160.92" y2="362.3" stroke="#000" stroke-width="1.4"/>
<line x1="204.08" y1="360.3" x2="204.08" y2="362.3" stroke="#000" stroke-width="1.4"/>
<line x1="247.25" y1="360.3" x2="247.25" y2="362.3" stroke="#000" stroke-width="1.4"/>
<line x1="290.42" y1="360.3" x2="290.42" y2="362.3" stroke="#000" stroke-width="1.4"/>
<text x="182.4" y="400.1" font-size="18" font-weight="bold" text-anchor="middle" fill="#000" >Strain (%)</text>
<text transform="translate(26,255.4) rotate(-90)" font-size="18" font-weight="bold" text-anchor="middle">Stress (MPa)</text>
<text transform="translate(7,148.8) scale(1.1,1)" font-size="25" font-weight="bold" fill="#000">b</text>
<line x1="210.5" y1="157.3" x2="233.3" y2="157.3" stroke="#3c3c3c" stroke-width="2"/>
<circle cx="221.9" cy="157.3" r="2.2" fill="#fff" stroke="#3c3c3c" stroke-width="1.4"/>
<text x="236.3" y="160.7" font-size="9.7" font-weight="bold" text-anchor="start" fill="#3c3c3c" >DMF</text>
<line x1="210.5" y1="169.9" x2="233.3" y2="169.9" stroke="#1f6de0" stroke-width="2"/>
<circle cx="221.9" cy="169.9" r="2.2" fill="#fff" stroke="#1f6de0" stroke-width="1.4"/>
<text x="236.3" y="173.3" font-size="9.7" font-weight="bold" text-anchor="start" fill="#1f6de0" >Acetone</text>
<line x1="210.5" y1="182.5" x2="233.3" y2="182.5" stroke="#b07ce6" stroke-width="2"/>
<circle cx="221.9" cy="182.5" r="2.2" fill="#fff" stroke="#b07ce6" stroke-width="1.4"/>
<text x="236.3" y="185.9" font-size="9.7" font-weight="bold" text-anchor="start" fill="#b07ce6" >DMF-acetone</text>
<line x1="210.5" y1="195.1" x2="233.3" y2="195.1" stroke="#3aa65c" stroke-width="2"/>
<circle cx="221.9" cy="195.1" r="2.2" fill="#fff" stroke="#3aa65c" stroke-width="1.4"/>
<text x="236.3" y="198.5" font-size="9.7" font-weight="bold" text-anchor="start" fill="#3aa65c" >IL-acetone</text>
<line x1="210.5" y1="207.7" x2="233.3" y2="207.7" stroke="#e83b3b" stroke-width="2"/>
<circle cx="221.9" cy="207.7" r="2.2" fill="#fff" stroke="#e83b3b" stroke-width="1.4"/>
<text x="236.3" y="211.1" font-size="9.7" font-weight="bold" text-anchor="start" fill="#e83b3b" >IL-DMF-acetone</text>
<rect x="400.4" y="149.5" width="261.80000000000007" height="212.39999999999998" fill="none" stroke="#000" stroke-width="1.8"/>
<line x1="396.4" y1="361.90" x2="400.4" y2="361.90" stroke="#000" stroke-width="1.4"/>
<text x="392.9" y="365.6" font-size="10.6" font-weight="bold" text-anchor="end" fill="#000" >0.0E+0</text>
<line x1="396.4" y1="319.42" x2="400.4" y2="319.42" stroke="#000" stroke-width="1.4"/>
<text x="392.9" y="323.2" font-size="10.6" font-weight="bold" text-anchor="end" fill="#000" >5.0E+3</text>
<line x1="396.4" y1="276.94" x2="400.4" y2="276.94" stroke="#000" stroke-width="1.4"/>
<text x="392.9" y="280.7" font-size="10.6" font-weight="bold" text-anchor="end" fill="#000" >1.0E+4</text>
<line x1="396.4" y1="234.46" x2="400.4" y2="234.46" stroke="#000" stroke-width="1.4"/>
<text x="392.9" y="238.2" font-size="10.6" font-weight="bold" text-anchor="end" fill="#000" >1.5E+4</text>
<line x1="396.4" y1="191.98" x2="400.4" y2="191.98" stroke="#000" stroke-width="1.4"/>
<text x="392.9" y="195.7" font-size="10.6" font-weight="bold" text-anchor="end" fill="#000" >2.0E+4</text>
<line x1="396.4" y1="149.50" x2="400.4" y2="149.50" stroke="#000" stroke-width="1.4"/>
<text x="392.9" y="153.3" font-size="10.6" font-weight="bold" text-anchor="end" fill="#000" >2.5E+4</text>
<line x1="398.4" y1="340.66" x2="400.4" y2="340.66" stroke="#000" stroke-width="1.4"/>
<line x1="398.4" y1="298.18" x2="400.4" y2="298.18" stroke="#000" stroke-width="1.4"/>
<line x1="398.4" y1="255.70" x2="400.4" y2="255.70" stroke="#000" stroke-width="1.4"/>
<line x1="398.4" y1="213.22" x2="400.4" y2="213.22" stroke="#000" stroke-width="1.4"/>
<line x1="398.4" y1="170.74" x2="400.4" y2="170.74" stroke="#000" stroke-width="1.4"/>
<line x1="400.40" y1="361.9" x2="400.40" y2="365.9" stroke="#000" stroke-width="1.4"/>
<text x="400.4" y="377.6" font-size="10.6" font-weight="bold" text-anchor="middle" fill="#000" >1.0</text>
<line x1="452.76" y1="361.9" x2="452.76" y2="365.9" stroke="#000" stroke-width="1.4"/>
<text x="452.8" y="377.6" font-size="10.6" font-weight="bold" text-anchor="middle" fill="#000" >2.0</text>
<line x1="505.12" y1="361.9" x2="505.12" y2="365.9" stroke="#000" stroke-width="1.4"/>
<text x="505.1" y="377.6" font-size="10.6" font-weight="bold" text-anchor="middle" fill="#000" >3.0</text>
<line x1="557.48" y1="361.9" x2="557.48" y2="365.9" stroke="#000" stroke-width="1.4"/>
<text x="557.5" y="377.6" font-size="10.6" font-weight="bold" text-anchor="middle" fill="#000" >4.0</text>
<line x1="609.84" y1="361.9" x2="609.84" y2="365.9" stroke="#000" stroke-width="1.4"/>
<text x="609.8" y="377.6" font-size="10.6" font-weight="bold" text-anchor="middle" fill="#000" >5.0</text>
<line x1="662.20" y1="361.9" x2="662.20" y2="365.9" stroke="#000" stroke-width="1.4"/>
<text x="662.2" y="377.6" font-size="10.6" font-weight="bold" text-anchor="middle" fill="#000" >6.0</text>
<line x1="426.58" y1="361.9" x2="426.58" y2="363.9" stroke="#000" stroke-width="1.4"/>
<line x1="478.94" y1="361.9" x2="478.94" y2="363.9" stroke="#000" stroke-width="1.4"/>
<line x1="531.30" y1="361.9" x2="531.30" y2="363.9" stroke="#000" stroke-width="1.4"/>
<line x1="583.66" y1="361.9" x2="583.66" y2="363.9" stroke="#000" stroke-width="1.4"/>
<line x1="636.02" y1="361.9" x2="636.02" y2="363.9" stroke="#000" stroke-width="1.4"/>
<text x="531.6" y="398.8" font-size="18" font-weight="bold" text-anchor="middle" fill="#000" >UTS (MPa)</text>
<text transform="translate(347.5,246) rotate(-90)" font-size="16" font-weight="bold" text-anchor="middle">Toughness (J · m<tspan dy="-6" font-size="11">-3</tspan><tspan dy="6">)</tspan></text>
<text transform="translate(336.8,149) scale(1.1,1)" font-size="25" font-weight="bold" fill="#000">c</text>
<defs>
<radialGradient id="gk" cx="0.38" cy="0.35" r="0.7"><stop offset="0" stop-color="#fff"/><stop offset="0.18" stop-color="#9a9a9a"/><stop offset="0.6" stop-color="#3a3a3a"/><stop offset="1" stop-color="#3a3a3a"/></radialGradient>
<radialGradient id="gb" cx="0.38" cy="0.35" r="0.7"><stop offset="0" stop-color="#fff"/><stop offset="0.18" stop-color="#8ab4ff"/><stop offset="0.6" stop-color="#1a5fd8"/><stop offset="1" stop-color="#1a5fd8"/></radialGradient>
<radialGradient id="gp" cx="0.38" cy="0.35" r="0.7"><stop offset="0" stop-color="#fff"/><stop offset="0.18" stop-color="#e2c8ff"/><stop offset="0.6" stop-color="#a36ae0"/><stop offset="1" stop-color="#a36ae0"/></radialGradient>
<radialGradient id="gg" cx="0.38" cy="0.35" r="0.7"><stop offset="0" stop-color="#fff"/><stop offset="0.18" stop-color="#9fe0b4"/><stop offset="0.6" stop-color="#2a9a55"/><stop offset="1" stop-color="#2a9a55"/></radialGradient>
<radialGradient id="gr" cx="0.38" cy="0.35" r="0.7"><stop offset="0" stop-color="#fff"/><stop offset="0.18" stop-color="#ff9a9a"/><stop offset="0.6" stop-color="#e02a2a"/><stop offset="1" stop-color="#e02a2a"/></radialGradient>
</defs>
<circle cx="414.3" cy="346.8" r="4.4" fill="url(#gk)"/>
<circle cx="548.7" cy="264.5" r="4.4" fill="url(#gb)"/>
<circle cx="617.8" cy="242.5" r="4.4" fill="url(#gp)"/>
<circle cx="496.8" cy="217.7" r="4.4" fill="url(#gg)"/>
<circle cx="583.5" cy="168" r="4.4" fill="url(#gr)"/>
<circle cx="568.2" cy="302.6" r="4" fill="url(#gk)"/>
<text x="582.8" y="306.0" font-size="9.8" font-weight="bold" text-anchor="start" fill="#3c3c3c" >DMF</text>
<circle cx="568.2" cy="315.2" r="4" fill="url(#gb)"/>
<text x="582.8" y="318.6" font-size="9.8" font-weight="bold" text-anchor="start" fill="#1f6de0" >Acetone</text>
<circle cx="568.2" cy="327.9" r="4" fill="url(#gp)"/>
<text x="582.8" y="331.3" font-size="9.8" font-weight="bold" text-anchor="start" fill="#b07ce6" >DMF-acetone</text>
<circle cx="568.2" cy="340.6" r="4" fill="url(#gg)"/>
<text x="582.8" y="343.9" font-size="9.8" font-weight="bold" text-anchor="start" fill="#3aa65c" >IL-acetone</text>
<circle cx="568.2" cy="353.2" r="4" fill="url(#gr)"/>
<text x="582.8" y="356.6" font-size="9.8" font-weight="bold" text-anchor="start" fill="#e83b3b" >IL-DMF-acetone</text>
<defs><filter id="sb" x="-50%" y="-50%" width="200%" height="200%"><feGaussianBlur stdDeviation="1.1"/></filter></defs>
<defs>
<filter id="fd" filterUnits="userSpaceOnUse" x="29" y="429" width="254" height="254" color-interpolation-filters="sRGB"><feTurbulence type="fractalNoise" baseFrequency="0.036 0.14" numOctaves="2" seed="11"/><feColorMatrix type="matrix" values="1 0 0 0 0  1 0 0 0 0  1 0 0 0 0  0 0 0 0 1" result="n1"/><feTurbulence type="fractalNoise" baseFrequency="0.048 0.18" numOctaves="2" seed="29"/><feColorMatrix type="matrix" values="1 0 0 0 0  1 0 0 0 0  1 0 0 0 0  0 0 0 0 1" result="n2"/><feComposite in="n1" in2="n2" operator="arithmetic" k1="0" k2="0.5" k3="0.5" k4="0"/><feComponentTransfer><feFuncR type="linear" slope="7" intercept="-3.350"/></feComponentTransfer><feColorMatrix type="matrix" values="1 0 0 0 0  1 0 0 0 0  1 0 0 0 0  0 0 0 0 1"/><feGaussianBlur stdDeviation="2.6 1.2"/><feColorMatrix type="matrix" values="1 0 0 0 0  1 0 0 0 0  1 0 0 0 0  0 0 0 0 1"/><feComponentTransfer><feFuncR type="table" tableValues="0.165 0.168 0.171 0.174 0.177 0.180 0.184 0.187 0.190 0.193 0.196 0.193 0.190 0.186 0.183 0.180 0.176 0.173 0.170 0.167 0.163 0.160 0.157 0.164 0.172 0.179 0.187 0.195 0.202 0.210 0.217 0.225 0.232 0.240 0.247 0.255 0.267 0.278 0.290 0.302 0.314 0.325 0.337 0.349 0.361 0.373 0.384 0.396 0.408 0.420 0.431 0.454 0.477 0.500 0.523 0.546 0.569 0.592 0.614 0.637 0.660 0.683 0.706 0.708 0.709 0.711 0.712 0.714 0.716 0.717 0.719 0.721 0.722 0.724 0.725 0.718 0.711 0.704 0.697 0.690 0.683 0.676 0.668 0.661 0.654 0.647 0.647 0.647 0.647 0.647 0.647 0.647 0.647 0.647 0.647 0.647 0.647 0.647 0.647 0.647 0.647"/><feFuncG type="table" tableValues="0.157 0.164 0.171 0.178 0.185 0.192 0.199 0.206 0.213 0.220 0.227 0.251 0.275 0.298 0.322 0.345 0.369 0.392 0.416 0.439 0.463 0.486 0.510 0.518 0.527 0.535 0.544 0.552 0.560 0.569 0.577 0.586 0.594 0.603 0.611 0.620 0.620 0.621 0.621 0.622 0.622 0.623 0.623 0.624 0.624 0.625 0.625 0.626 0.626 0.627 0.627 0.624 0.621 0.618 0.614 0.611 0.608 0.605 0.601 0.598 0.595 0.592 0.588 0.569 0.549 0.529 0.510 0.490 0.471 0.451 0.431 0.412 0.392 0.373 0.353 0.332 0.312 0.291 0.270 0.250 0.229 0.208 0.188 0.167 0.146 0.125 0.125 0.125 0.125 0.125 0.125 0.125 0.125 0.125 0.125 0.125 0.125 0.125 0.125 0.125 0.125"/><feFuncB type="table" tableValues="0.608 0.612 0.616 0.620 0.624 0.627 0.631 0.635 0.639 0.643 0.647 0.642 0.637 0.632 0.627 0.623 0.618 0.613 0.608 0.603 0.598 0.593 0.588 0.567 0.546 0.525 0.504 0.483 0.462 0.440 0.419 0.398 0.377 0.356 0.335 0.314 0.308 0.303 0.298 0.293 0.288 0.282 0.277 0.272 0.267 0.261 0.256 0.251 0.246 0.241 0.235 0.232 0.229 0.225 0.222 0.219 0.216 0.212 0.209 0.206 0.203 0.199 0.196 0.193 0.190 0.186 0.183 0.180 0.176 0.173 0.170 0.167 0.163 0.160 0.157 0.154 0.151 0.148 0.145 0.143 0.140 0.137 0.134 0.131 0.128 0.125 0.125 0.125 0.125 0.125 0.125 0.125 0.125 0.125 0.125 0.125 0.125 0.125 0.125 0.125 0.125"/></feComponentTransfer><feGaussianBlur stdDeviation="0.4"/></filter>
</defs>
<rect x="29" y="429" width="254" height="254" filter="url(#fd)"/>
<g filter="url(#sb)">
<circle cx="160.6" cy="547.6" r="3.3" fill="#333"/>
<circle cx="177.3" cy="555" r="3.3" fill="#333"/>
<circle cx="64.2" cy="629.2" r="3.3" fill="#333"/>
</g>
<line x1="29" y1="517.2" x2="283" y2="517.2" stroke="#fff" stroke-width="3" stroke-dasharray="10.7 8.6" stroke-dashoffset="1.7"/>
<line x1="29" y1="601.2" x2="283" y2="601.2" stroke="#fff" stroke-width="3" stroke-dasharray="10.7 8.6" stroke-dashoffset="1.7"/>
<line x1="110" y1="429" x2="110" y2="683" stroke="#fff" stroke-width="3" stroke-dasharray="10.4 9.0"/>
<line x1="193.9" y1="429" x2="193.9" y2="683" stroke="#fff" stroke-width="3" stroke-dasharray="10.4 9.0"/>
<line x1="29" y1="499.6" x2="283" y2="499.6" stroke="#00f4ff" stroke-width="2.9" stroke-dasharray="2.9 2.53" stroke-dashoffset="-2"/>
<circle cx="90.9" cy="552.2" r="9" fill="none" stroke="#fff" stroke-width="2.2"/>
<circle cx="109.6" cy="601.5" r="9" fill="none" stroke="#fff" stroke-width="2.2"/>
<text x="67.0" y="550.8" font-size="14.5" font-weight="bold" text-anchor="start" fill="#fff" >2</text>
<text x="118.2" y="586.3" font-size="14.5" font-weight="bold" text-anchor="start" fill="#fff" >1</text>
<rect x="234.8" y="664" width="36.2" height="6" fill="#fff"/>
<text transform="translate(249.2,654.6) scale(1.09,1)" font-size="16" font-weight="bold" text-anchor="middle" fill="#fff">100 µm</text>
<text x="34.5" y="449" font-size="23" fill="#fff" font-weight="bold" font-style="italic">ε<tspan font-size="19" dy="5.5">Y</tspan></text>
<defs><linearGradient id="cb296" x1="0" y1="1" x2="0" y2="0"><stop offset="0" stop-color="#1010ff"/><stop offset="0.25" stop-color="#00e8ff"/><stop offset="0.5" stop-color="#10d010"/><stop offset="0.75" stop-color="#f0f000"/><stop offset="0.88" stop-color="#ff8000"/><stop offset="1" stop-color="#f01010"/></linearGradient></defs>
<rect x="296.8" y="450.8" width="8.3" height="223.90000000000003" fill="url(#cb296)"/>
<text x="308.0" y="455.0" font-size="11.8" font-weight="bold" text-anchor="start" fill="#000" >8.0</text>
<text x="308.0" y="483.0" font-size="11.8" font-weight="bold" text-anchor="start" fill="#000" >7.0</text>
<text x="308.0" y="511.0" font-size="11.8" font-weight="bold" text-anchor="start" fill="#000" >6.0</text>
<text x="308.0" y="539.0" font-size="11.8" font-weight="bold" text-anchor="start" fill="#000" >5.0</text>
<text x="308.0" y="567.0" font-size="11.8" font-weight="bold" text-anchor="start" fill="#000" >4.0</text>
<text x="308.0" y="594.9" font-size="11.8" font-weight="bold" text-anchor="start" fill="#000" >3.0</text>
<text x="308.0" y="622.9" font-size="11.8" font-weight="bold" text-anchor="start" fill="#000" >2.0</text>
<text x="308.0" y="650.9" font-size="11.8" font-weight="bold" text-anchor="start" fill="#000" >1.0</text>
<text x="308.0" y="678.9" font-size="11.8" font-weight="bold" text-anchor="start" fill="#000" >0.0</text>
<text x="317.0" y="419.2" font-size="15" font-weight="bold" text-anchor="middle" fill="#000" >Strain</text>
<text x="317.0" y="437.7" font-size="15" font-weight="bold" text-anchor="middle" fill="#000" >(%)</text>
<text transform="translate(6.8,435) scale(1.1,1)" font-size="25" font-weight="bold" fill="#000">d</text>
<defs>
<filter id="fe" filterUnits="userSpaceOnUse" x="326" y="389" width="330" height="331" color-interpolation-filters="sRGB"><feTurbulence type="fractalNoise" baseFrequency="0.15 0.032" numOctaves="2" seed="5"/><feColorMatrix type="matrix" values="1 0 0 0 0  1 0 0 0 0  1 0 0 0 0  0 0 0 0 1" result="n1"/><feTurbulence type="fractalNoise" baseFrequency="0.19 0.042" numOctaves="2" seed="17"/><feColorMatrix type="matrix" values="1 0 0 0 0  1 0 0 0 0  1 0 0 0 0  0 0 0 0 1" result="n2"/><feComposite in="n1" in2="n2" operator="arithmetic" k1="0" k2="0.5" k3="0.5" k4="0"/><feColorMatrix type="matrix" values="1 0 0 0 0  1 0 0 0 0  1 0 0 0 0  0 0 0 0 1"/><feComponentTransfer><feFuncR type="table" tableValues="0.141 0.141 0.141 0.141 0.141 0.141 0.141 0.141 0.141 0.141 0.141 0.141 0.141 0.141 0.141 0.141 0.141 0.141 0.141 0.141 0.141 0.141 0.141 0.141 0.141 0.141 0.141 0.141 0.141 0.141 0.141 0.141 0.141 0.141 0.141 0.146 0.150 0.155 0.159 0.164 0.169 0.174 0.189 0.213 0.238 0.262 0.287 0.312 0.337 0.362 0.387 0.412 0.474 0.535 0.597 0.659 0.678 0.697 0.716 0.709 0.676 0.644 0.627 0.627 0.627 0.627 0.627 0.627 0.627 0.627 0.627 0.627 0.627 0.627 0.627 0.627 0.627 0.627 0.627 0.627 0.627 0.627 0.627 0.627 0.627 0.627 0.627 0.627 0.627 0.627 0.627 0.627 0.627 0.627 0.627 0.627 0.627 0.627 0.627 0.627 0.627"/><feFuncG type="table" tableValues="0.141 0.141 0.141 0.141 0.141 0.141 0.141 0.141 0.141 0.141 0.141 0.141 0.141 0.141 0.141 0.141 0.141 0.141 0.141 0.141 0.141 0.141 0.141 0.141 0.141 0.141 0.141 0.141 0.141 0.141 0.141 0.141 0.141 0.141 0.141 0.207 0.273 0.339 0.403 0.465 0.527 0.589 0.625 0.634 0.644 0.654 0.659 0.659 0.659 0.659 0.659 0.659 0.651 0.643 0.635 0.627 0.571 0.515 0.459 0.380 0.278 0.176 0.125 0.125 0.125 0.125 0.125 0.125 0.125 0.125 0.125 0.125 0.125 0.125 0.125 0.125 0.125 0.125 0.125 0.125 0.125 0.125 0.125 0.125 0.125 0.125 0.125 0.125 0.125 0.125 0.125 0.125 0.125 0.125 0.125 0.125 0.125 0.125 0.125 0.125 0.125"/><feFuncB type="table" tableValues="0.608 0.608 0.608 0.608 0.608 0.608 0.608 0.608 0.608 0.608 0.608 0.608 0.608 0.608 0.608 0.608 0.608 0.608 0.608 0.608 0.608 0.608 0.608 0.608 0.608 0.608 0.608 0.608 0.608 0.608 0.608 0.608 0.608 0.608 0.608 0.622 0.637 0.652 0.654 0.644 0.634 0.625 0.581 0.505 0.428 0.352 0.307 0.292 0.278 0.264 0.250 0.235 0.227 0.220 0.212 0.204 0.196 0.188 0.180 0.168 0.151 0.134 0.125 0.125 0.125 0.125 0.125 0.125 0.125 0.125 0.125 0.125 0.125 0.125 0.125 0.125 0.125 0.125 0.125 0.125 0.125 0.125 0.125 0.125 0.125 0.125 0.125 0.125 0.125 0.125 0.125 0.125 0.125 0.125 0.125 0.125 0.125 0.125 0.125 0.125 0.125"/></feComponentTransfer><feGaussianBlur stdDeviation="0.7"/></filter>
<clipPath id="cfe"><rect x="366" y="429" width="250" height="251"/></clipPath>
</defs>
<g clip-path="url(#cfe)"><g transform="rotate(-5 491.0 554.5)"><rect x="326" y="389" width="330" height="331" filter="url(#fe)"/></g></g>
<g filter="url(#sb)">
<ellipse cx="485.5" cy="527" rx="4.2" ry="28" transform="rotate(8 485.5 527)" fill="#b02a2c"/>
<ellipse cx="498.5" cy="521" rx="3.6" ry="23" transform="rotate(-8 498.5 521)" fill="#2a2fa8"/>
<ellipse cx="509.8" cy="540" rx="3.2" ry="9" fill="#b02a2c"/>
<circle cx="497.4" cy="544.2" r="3.6" fill="#3c3c3c"/>
<circle cx="512" cy="551.5" r="3.4" fill="#3c3c3c"/>
</g>
<line x1="366" y1="516.8" x2="616" y2="516.8" stroke="#fff" stroke-width="3" stroke-dasharray="10.7 8.6" stroke-dashoffset="0"/>
<line x1="366" y1="599.5" x2="616" y2="599.5" stroke="#fff" stroke-width="3" stroke-dasharray="10.7 8.6" stroke-dashoffset="0"/>
<line x1="447.9" y1="429" x2="447.9" y2="680" stroke="#fff" stroke-width="3" stroke-dasharray="10.4 9.0"/>
<line x1="530.6" y1="429" x2="530.6" y2="680" stroke="#fff" stroke-width="3" stroke-dasharray="10.4 9.0"/>
<line x1="366" y1="499.3" x2="616" y2="499.3" stroke="#00f4ff" stroke-width="2.9" stroke-dasharray="2.9 2.65" stroke-dashoffset="0.5"/>
<rect x="569" y="661" width="35.6" height="6.3" fill="#fff"/>
<text transform="translate(584.3,651.2) scale(1.09,1)" font-size="16" font-weight="bold" text-anchor="middle" fill="#fff">100 µm</text>
<text x="371" y="449" font-size="23" fill="#fff" font-weight="bold" font-style="italic">ε<tspan font-size="19" dy="5.5">X</tspan></text>
<defs><linearGradient id="cb636" x1="0" y1="1" x2="0" y2="0"><stop offset="0" stop-color="#1010ff"/><stop offset="0.25" stop-color="#00e8ff"/><stop offset="0.5" stop-color="#10d010"/><stop offset="0.75" stop-color="#f0f000"/><stop offset="0.88" stop-color="#ff8000"/><stop offset="1" stop-color="#f01010"/></linearGradient></defs>
<rect x="636.3" y="447.3" width="7.6" height="222.90000000000003" fill="url(#cb636)"/>
<text x="646.5" y="451.5" font-size="11.8" font-weight="bold" text-anchor="start" fill="#000" >8.0</text>
<text x="646.5" y="479.4" font-size="11.8" font-weight="bold" text-anchor="start" fill="#000" >6.0</text>
<text x="646.5" y="507.2" font-size="11.8" font-weight="bold" text-anchor="start" fill="#000" >4.0</text>
<text x="646.5" y="535.1" font-size="11.8" font-weight="bold" text-anchor="start" fill="#000" >2.0</text>
<text x="646.5" y="563.0" font-size="11.8" font-weight="bold" text-anchor="start" fill="#000" >0.0</text>
<text x="646.5" y="590.8" font-size="11.8" font-weight="bold" text-anchor="start" fill="#000" >-2.0</text>
<text x="646.5" y="618.7" font-size="11.8" font-weight="bold" text-anchor="start" fill="#000" >-4.0</text>
<text x="646.5" y="646.5" font-size="11.8" font-weight="bold" text-anchor="start" fill="#000" >-6.0</text>
<text x="646.5" y="674.4" font-size="11.8" font-weight="bold" text-anchor="start" fill="#000" >-8.0</text>
<text x="650.0" y="416.8" font-size="15" font-weight="bold" text-anchor="middle" fill="#000" >Strain</text>
<text x="650.0" y="435.3" font-size="15" font-weight="bold" text-anchor="middle" fill="#000" >(%)</text>
<text transform="translate(345.8,435) scale(1.1,1)" font-size="25" font-weight="bold" fill="#000">e</text>
<line x1="54.6" y1="842.4" x2="312.3" y2="842.4" stroke="#f5f500" stroke-width="1.8" stroke-dasharray="2.5 2"/>
<polyline points="54.0,835.6 56.7,832.2 60.1,818.8 62.3,825.5 63.5,823.3 64.6,827.8 66.8,842.3 69.1,836.7 71.3,837.9 73.6,839.0 76.5,832.2 79.2,835.6 82.5,836.7 85.9,827.8 88.1,822.1 90.4,822.1 92.2,817.0 93.8,823.3 97.1,824.4 100.5,832.2 102.7,834.5 103.8,842.3 106.1,839.0 108.3,842.3 110.1,836.7 112.8,821.0 116.2,795.2 118.4,776.1 120.0,767.1 121.8,773.9 123.1,779.5 124.7,770.5 128.5,775.0 131.9,794.1 134.1,807.6 135.9,816.5 137.5,830.0 139.7,830.0 142.0,841.2 144.2,835.6 146.5,836.7 149.8,832.2 153.2,832.2 157.2,837.9 158.8,842.3 162.2,843.5 164.4,850.2 166.7,861.4 170.0,872.7 172.3,865.9 175.6,865.9 179.0,874.9 182.4,854.7 181.1,859.2 183.4,852.5 186.7,825.5 189.0,818.8 192.3,805.3 194.6,800.8 197.5,794.1 199.1,797.4 201.3,795.2 204.7,800.8 208.0,809.8 211.4,818.8 213.7,830.0 215.9,836.7 219.3,837.9 221.5,842.3 223.8,845.7 226.0,849.1 228.2,858.1 231.2,860.3 232.7,846.8 234.5,849.1 236.1,854.7 238.3,853.6 240.6,852.5 242.8,850.2 245.1,852.5 247.3,850.2 249.6,848.0 251.8,845.7 254.0,842.3 257.4,842.3 260.8,843.5 263.0,841.2 265.3,842.3 267.5,842.3 269.7,848.0 272.0,859.2 274.2,882.8 276.5,879.4 278.7,874.9 282.1,870.4 284.3,869.3 286.6,879.4 288.8,886.1 291.1,880.5 292.9,877.1 294.0,869.3 296.2,865.9 297.8,858.1 298.9,845.7 301.2,839.0 303.0,834.5 304.5,841.2 306.8,828.9 307.9,843.5 310.1,844.6 312.4,844.6" fill="none" stroke="#e63838" stroke-width="1.9" stroke-linejoin="round"/>
<polyline points="54.0,819.9 60.1,892.9 62.3,877.1 67.9,796.3 69.7,792.3 72.4,809.8 74.7,830.0 76.9,836.7 80.3,832.2 83.2,827.3 85.9,845.7 87.7,863.7 90.4,876.0 92.6,863.7 94.9,839.0 98.2,832.2 100.5,841.2 103.8,854.7 107.2,855.8 109.5,850.2 112.4,843.5 116.2,795.2 121.3,804.9 125.8,862.6 129.6,867.0 134.1,821.0 138.6,809.8 142.0,825.5 143.8,836.7 147.6,841.2 150.5,832.2 152.8,832.2 155.5,854.7 157.7,877.1 160.4,898.5 162.2,890.6 164.4,879.4 166.7,814.3 168.5,742.4 170.0,744.7 173.4,805.3 176.1,877.1 177.9,914.2 180.0,890.6 181.8,855.8 186.7,852.5 190.1,849.1 192.3,844.6 194.6,836.7 197.9,835.6 200.2,816.5 202.4,776.1 204.2,757.0 206.9,778.4 209.2,794.1 211.4,825.5 213.2,867.0 214.8,863.7 217.0,849.1 219.3,852.5 221.5,856.9 223.8,852.5 226.0,849.1 228.2,860.3 230.5,872.7 233.8,881.6 236.1,845.7 238.3,795.2 240.6,798.6 243.9,807.6 245.7,845.7 247.3,891.7 249.6,863.7 251.8,839.0 254.0,832.2 256.3,827.8 258.1,841.2 260.3,854.7 263.0,845.7 266.4,836.7 269.3,833.4 270.9,845.7 273.8,883.9 275.4,865.9 276.9,821.0 279.8,812.0 282.5,803.1 284.3,827.8 286.6,861.4 289.9,830.0 292.2,834.5 294.4,837.9 296.7,830.0 298.9,827.8 301.2,823.3 303.9,824.4 305.6,836.7 307.4,851.3 310.1,853.6 312.4,860.3" fill="none" stroke="#474747" stroke-width="1.9" stroke-linejoin="round"/>
<rect x="0" y="690" width="54" height="290" fill="#fff"/>
<rect x="54.6" y="725.8" width="257.7" height="209.9000000000001" fill="none" stroke="#000" stroke-width="2.4"/>
<line x1="50.0" y1="935.70" x2="54.0" y2="935.70" stroke="#000" stroke-width="1.4"/>
<text x="46.5" y="939.5" font-size="10.6" font-weight="bold" text-anchor="end" fill="#000" >−20</text>
<line x1="50.0" y1="912.38" x2="54.0" y2="912.38" stroke="#000" stroke-width="1.4"/>
<text x="46.5" y="916.1" font-size="10.6" font-weight="bold" text-anchor="end" fill="#000" >−15</text>
<line x1="50.0" y1="889.06" x2="54.0" y2="889.06" stroke="#000" stroke-width="1.4"/>
<text x="46.5" y="892.8" font-size="10.6" font-weight="bold" text-anchor="end" fill="#000" >−10</text>
<line x1="50.0" y1="865.73" x2="54.0" y2="865.73" stroke="#000" stroke-width="1.4"/>
<text x="46.5" y="869.5" font-size="10.6" font-weight="bold" text-anchor="end" fill="#000" >−5</text>
<line x1="50.0" y1="842.41" x2="54.0" y2="842.41" stroke="#000" stroke-width="1.4"/>
<text x="46.5" y="846.2" font-size="10.6" font-weight="bold" text-anchor="end" fill="#000" >0</text>
<line x1="50.0" y1="819.09" x2="54.0" y2="819.09" stroke="#000" stroke-width="1.4"/>
<text x="46.5" y="822.8" font-size="10.6" font-weight="bold" text-anchor="end" fill="#000" >5</text>
<line x1="50.0" y1="795.77" x2="54.0" y2="795.77" stroke="#000" stroke-width="1.4"/>
<text x="46.5" y="799.5" font-size="10.6" font-weight="bold" text-anchor="end" fill="#000" >10</text>
<line x1="50.0" y1="772.44" x2="54.0" y2="772.44" stroke="#000" stroke-width="1.4"/>
<text x="46.5" y="776.2" font-size="10.6" font-weight="bold" text-anchor="end" fill="#000" >15</text>
<line x1="50.0" y1="749.12" x2="54.0" y2="749.12" stroke="#000" stroke-width="1.4"/>
<text x="46.5" y="752.9" font-size="10.6" font-weight="bold" text-anchor="end" fill="#000" >20</text>
<line x1="50.0" y1="725.80" x2="54.0" y2="725.80" stroke="#000" stroke-width="1.4"/>
<text x="46.5" y="729.5" font-size="10.6" font-weight="bold" text-anchor="end" fill="#000" >25</text>
<line x1="52.0" y1="924.04" x2="54.0" y2="924.04" stroke="#000" stroke-width="1.4"/>
<line x1="52.0" y1="900.72" x2="54.0" y2="900.72" stroke="#000" stroke-width="1.4"/>
<line x1="52.0" y1="877.39" x2="54.0" y2="877.39" stroke="#000" stroke-width="1.4"/>
<line x1="52.0" y1="854.07" x2="54.0" y2="854.07" stroke="#000" stroke-width="1.4"/>
<line x1="52.0" y1="830.75" x2="54.0" y2="830.75" stroke="#000" stroke-width="1.4"/>
<line x1="52.0" y1="807.43" x2="54.0" y2="807.43" stroke="#000" stroke-width="1.4"/>
<line x1="52.0" y1="784.11" x2="54.0" y2="784.11" stroke="#000" stroke-width="1.4"/>
<line x1="52.0" y1="760.78" x2="54.0" y2="760.78" stroke="#000" stroke-width="1.4"/>
<line x1="52.0" y1="737.46" x2="54.0" y2="737.46" stroke="#000" stroke-width="1.4"/>
<line x1="54.60" y1="936.2" x2="54.60" y2="940.2" stroke="#000" stroke-width="1.4"/>
<text x="54.6" y="952.0" font-size="10.4" font-weight="bold" text-anchor="middle" fill="#000" >0.0</text>
<line x1="91.41" y1="936.2" x2="91.41" y2="940.2" stroke="#000" stroke-width="1.4"/>
<text x="91.4" y="952.0" font-size="10.4" font-weight="bold" text-anchor="middle" fill="#000" >0.1</text>
<line x1="128.23" y1="936.2" x2="128.23" y2="940.2" stroke="#000" stroke-width="1.4"/>
<text x="128.2" y="952.0" font-size="10.4" font-weight="bold" text-anchor="middle" fill="#000" >0.2</text>
<line x1="165.04" y1="936.2" x2="165.04" y2="940.2" stroke="#000" stroke-width="1.4"/>
<text x="165.0" y="952.0" font-size="10.4" font-weight="bold" text-anchor="middle" fill="#000" >0.3</text>
<line x1="201.86" y1="936.2" x2="201.86" y2="940.2" stroke="#000" stroke-width="1.4"/>
<text x="201.9" y="952.0" font-size="10.4" font-weight="bold" text-anchor="middle" fill="#000" >0.4</text>
<line x1="238.67" y1="936.2" x2="238.67" y2="940.2" stroke="#000" stroke-width="1.4"/>
<text x="238.7" y="952.0" font-size="10.4" font-weight="bold" text-anchor="middle" fill="#000" >0.5</text>
<line x1="275.49" y1="936.2" x2="275.49" y2="940.2" stroke="#000" stroke-width="1.4"/>
<text x="275.5" y="952.0" font-size="10.4" font-weight="bold" text-anchor="middle" fill="#000" >0.6</text>
<line x1="312.30" y1="936.2" x2="312.30" y2="940.2" stroke="#000" stroke-width="1.4"/>
<text x="312.3" y="952.0" font-size="10.4" font-weight="bold" text-anchor="middle" fill="#000" >0.7</text>
<line x1="73.01" y1="936.2" x2="73.01" y2="938.2" stroke="#000" stroke-width="1.4"/>
<line x1="109.82" y1="936.2" x2="109.82" y2="938.2" stroke="#000" stroke-width="1.4"/>
<line x1="146.64" y1="936.2" x2="146.64" y2="938.2" stroke="#000" stroke-width="1.4"/>
<line x1="183.45" y1="936.2" x2="183.45" y2="938.2" stroke="#000" stroke-width="1.4"/>
<line x1="220.26" y1="936.2" x2="220.26" y2="938.2" stroke="#000" stroke-width="1.4"/>
<line x1="257.08" y1="936.2" x2="257.08" y2="938.2" stroke="#000" stroke-width="1.4"/>
<line x1="293.89" y1="936.2" x2="293.89" y2="938.2" stroke="#000" stroke-width="1.4"/>
<text x="183.6" y="976.0" font-size="18" font-weight="bold" text-anchor="middle" fill="#000" >Length (mm)</text>
<text transform="translate(24.2,830.2) rotate(-90)" font-size="18" font-weight="bold" text-anchor="middle">Strain from DIC (%)</text>
<text transform="translate(13.5,726.8) scale(1.3,1)" font-size="25" font-weight="bold" fill="#000">f</text>
<line x1="61.7" y1="734.2" x2="86.7" y2="734.2" stroke="#474747" stroke-width="2"/>
<line x1="61.7" y1="748.5" x2="86.7" y2="748.5" stroke="#e63838" stroke-width="2"/>
<text x="90.2" y="737.9" font-size="10.8" font-weight="bold" text-anchor="start" fill="#000" >X Strain</text>
<text x="90.2" y="752.2" font-size="10.8" font-weight="bold" text-anchor="start" fill="#000" >Y Strain</text>
<rect x="397.9" y="724.5" width="264.4" height="212.29999999999995" fill="none" stroke="#000" stroke-width="2.1"/>
<line x1="393.9" y1="936.80" x2="397.9" y2="936.80" stroke="#000" stroke-width="1.4"/>
<text x="390.4" y="940.5" font-size="10.4" font-weight="bold" text-anchor="end" fill="#000" >0.0</text>
<line x1="393.9" y1="901.42" x2="397.9" y2="901.42" stroke="#000" stroke-width="1.4"/>
<text x="390.4" y="905.2" font-size="10.4" font-weight="bold" text-anchor="end" fill="#000" >1.0</text>
<line x1="393.9" y1="866.03" x2="397.9" y2="866.03" stroke="#000" stroke-width="1.4"/>
<text x="390.4" y="869.8" font-size="10.4" font-weight="bold" text-anchor="end" fill="#000" >2.0</text>
<line x1="393.9" y1="830.65" x2="397.9" y2="830.65" stroke="#000" stroke-width="1.4"/>
<text x="390.4" y="834.4" font-size="10.4" font-weight="bold" text-anchor="end" fill="#000" >3.0</text>
<line x1="393.9" y1="795.27" x2="397.9" y2="795.27" stroke="#000" stroke-width="1.4"/>
<text x="390.4" y="799.0" font-size="10.4" font-weight="bold" text-anchor="end" fill="#000" >4.0</text>
<line x1="393.9" y1="759.88" x2="397.9" y2="759.88" stroke="#000" stroke-width="1.4"/>
<text x="390.4" y="763.6" font-size="10.4" font-weight="bold" text-anchor="end" fill="#000" >5.0</text>
<line x1="393.9" y1="724.50" x2="397.9" y2="724.50" stroke="#000" stroke-width="1.4"/>
<text x="390.4" y="728.2" font-size="10.4" font-weight="bold" text-anchor="end" fill="#000" >6.0</text>
<line x1="395.9" y1="919.11" x2="397.9" y2="919.11" stroke="#000" stroke-width="1.4"/>
<line x1="395.9" y1="883.72" x2="397.9" y2="883.72" stroke="#000" stroke-width="1.4"/>
<line x1="395.9" y1="848.34" x2="397.9" y2="848.34" stroke="#000" stroke-width="1.4"/>
<line x1="395.9" y1="812.96" x2="397.9" y2="812.96" stroke="#000" stroke-width="1.4"/>
<line x1="395.9" y1="777.58" x2="397.9" y2="777.58" stroke="#000" stroke-width="1.4"/>
<line x1="395.9" y1="742.19" x2="397.9" y2="742.19" stroke="#000" stroke-width="1.4"/>
<line x1="397.90" y1="936.8" x2="397.90" y2="940.8" stroke="#000" stroke-width="1.4"/>
<text x="397.9" y="953.0" font-size="10.4" font-weight="bold" text-anchor="middle" fill="#000" >0</text>
<line x1="433.15" y1="936.8" x2="433.15" y2="940.8" stroke="#000" stroke-width="1.4"/>
<text x="433.2" y="953.0" font-size="10.4" font-weight="bold" text-anchor="middle" fill="#000" >2</text>
<line x1="468.41" y1="936.8" x2="468.41" y2="940.8" stroke="#000" stroke-width="1.4"/>
<text x="468.4" y="953.0" font-size="10.4" font-weight="bold" text-anchor="middle" fill="#000" >4</text>
<line x1="503.66" y1="936.8" x2="503.66" y2="940.8" stroke="#000" stroke-width="1.4"/>
<text x="503.7" y="953.0" font-size="10.4" font-weight="bold" text-anchor="middle" fill="#000" >6</text>
<line x1="538.91" y1="936.8" x2="538.91" y2="940.8" stroke="#000" stroke-width="1.4"/>
<text x="538.9" y="953.0" font-size="10.4" font-weight="bold" text-anchor="middle" fill="#000" >8</text>
<line x1="574.17" y1="936.8" x2="574.17" y2="940.8" stroke="#000" stroke-width="1.4"/>
<text x="574.2" y="953.0" font-size="10.4" font-weight="bold" text-anchor="middle" fill="#000" >10</text>
<line x1="609.42" y1="936.8" x2="609.42" y2="940.8" stroke="#000" stroke-width="1.4"/>
<text x="609.4" y="953.0" font-size="10.4" font-weight="bold" text-anchor="middle" fill="#000" >12</text>
<line x1="644.67" y1="936.8" x2="644.67" y2="940.8" stroke="#000" stroke-width="1.4"/>
<text x="644.7" y="953.0" font-size="10.4" font-weight="bold" text-anchor="middle" fill="#000" >14</text>
<line x1="415.53" y1="936.8" x2="415.53" y2="938.8" stroke="#000" stroke-width="1.4"/>
<line x1="450.78" y1="936.8" x2="450.78" y2="938.8" stroke="#000" stroke-width="1.4"/>
<line x1="486.03" y1="936.8" x2="486.03" y2="938.8" stroke="#000" stroke-width="1.4"/>
<line x1="521.29" y1="936.8" x2="521.29" y2="938.8" stroke="#000" stroke-width="1.4"/>
<line x1="556.54" y1="936.8" x2="556.54" y2="938.8" stroke="#000" stroke-width="1.4"/>
<line x1="591.79" y1="936.8" x2="591.79" y2="938.8" stroke="#000" stroke-width="1.4"/>
<line x1="627.05" y1="936.8" x2="627.05" y2="938.8" stroke="#000" stroke-width="1.4"/>
<line x1="662.30" y1="936.8" x2="662.30" y2="938.8" stroke="#000" stroke-width="1.4"/>
<text x="530.4" y="971.8" font-size="18" font-weight="bold" text-anchor="middle" fill="#000" >Strain (%)</text>
<text transform="translate(364,268) rotate(-90)" font-size="17.5" font-weight="bold" text-anchor="middle"></text>
<text transform="translate(368.3,825.3) rotate(-90)" font-size="18" font-weight="bold" text-anchor="middle">Stress (MPa)</text>
<text transform="translate(335.8,725.3) scale(1.1,1)" font-size="25" font-weight="bold" fill="#000">g</text>
<polyline points="397.9,932.4 400.5,929.6 403.0,926.8 405.6,924.0 408.1,921.2 410.7,918.5 413.2,915.7 415.8,913.0 418.3,910.4 420.9,907.7 423.5,905.1 426.0,902.5 428.6,899.9 431.1,897.3 433.7,894.8 436.2,892.3 438.8,889.8 441.3,887.3 443.9,884.9 446.5,882.4 449.0,880.1 451.6,877.7 454.1,875.4 456.7,873.1 459.2,870.8 461.8,868.5 464.4,866.3 466.9,864.1 469.5,862.0 472.0,859.8 474.6,857.7 477.1,855.6 479.7,853.6 482.2,851.6 484.8,849.6 487.4,847.6 489.9,845.7 492.5,843.8 495.0,841.9 497.6,840.1 500.1,838.3 502.7,836.6 505.2,834.8 507.8,833.1 510.4,831.5 512.9,829.8 515.5,828.2 518.0,826.7 520.6,825.2 523.1,823.7 525.7,822.2 528.2,820.8 530.8,819.4 533.4,818.1 535.9,816.8 538.5,815.5 541.0,814.2 543.6,813.0 546.1,811.9 548.7,810.8 551.3,809.7 553.8,808.6 556.4,807.6 558.9,806.7 561.5,805.7 564.0,804.9 566.6,804.0 569.1,803.2 571.7,802.4 574.3,801.7 576.8,801.0 579.4,800.4 581.9,799.8 584.5,799.2 587.0,798.7 589.6,798.3 592.1,797.8 594.7,797.5 597.3,797.1 599.8,796.8 602.4,796.6 604.9,796.4 607.5,796.2 610.0,796.1 612.6,796.0 615.1,796.0 617.7,796.1 620.3,796.1 622.8,796.2 625.4,796.4 627.9,796.6 630.5,796.9 633.0,797.2 635.6,797.6 638.2,798.0 640.7,798.4 643.3,798.9 645.8,799.5 648.4,800.1 650.9,800.8 653.5,801.5" fill="none" stroke="#e63838" stroke-width="2.2"/>
<polyline points="397.9,936.8 400.5,905.0 403.2,874.9 406.7,836.0 409.9,809.4 412.7,788.9" fill="none" stroke="#474747" stroke-width="2"/>
<line x1="582.8" y1="734.9" x2="608.5" y2="734.9" stroke="#555" stroke-width="2.2"/>
<line x1="582.8" y1="748.9" x2="608.5" y2="748.9" stroke="#e63838" stroke-width="2.2"/>
<text x="611.7" y="739.0" font-size="10.9" font-weight="bold" text-anchor="start" fill="#555" >Region 1</text>
<text x="611.7" y="753.0" font-size="10.9" font-weight="bold" text-anchor="start" fill="#e63838" >Region 2</text>
</svg>
</body></html>
